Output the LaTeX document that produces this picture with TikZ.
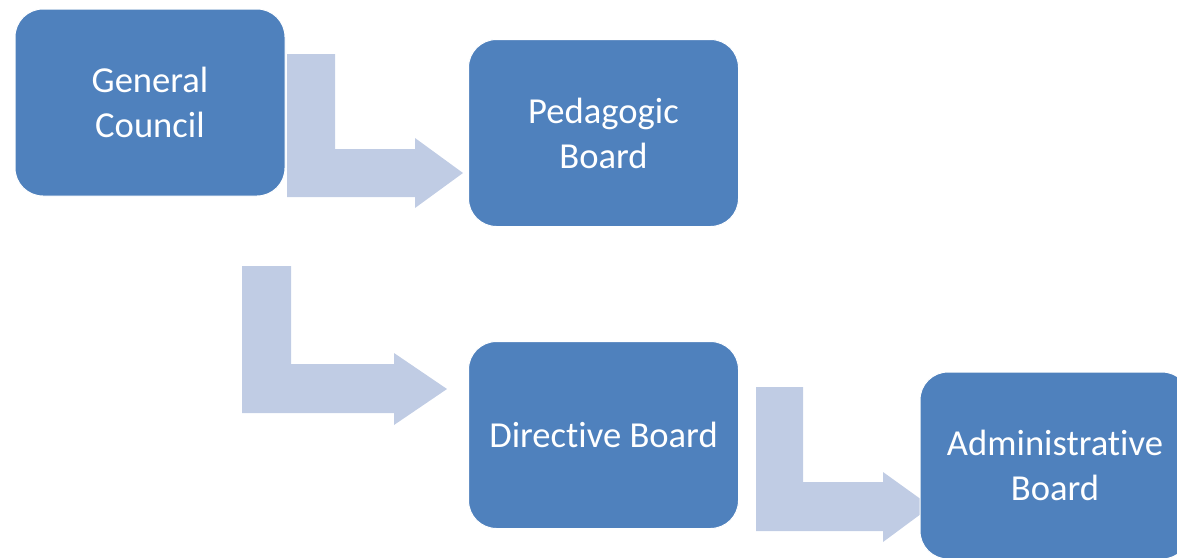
\documentclass[tikz,border=0pt]{standalone}
\usepackage{fontspec}
\setmainfont[RawFeature={-liga;-clig;-calt;-dlig}]{Carlito}
\definecolor{boxblue}{RGB}{79,129,189}
\definecolor{arrowblue}{RGB}{192,204,228}
\newcommand{\nolig}{\kern0pt\relax}
\begin{document}
\begin{tikzpicture}[x=1pt,y=-1pt,
  orgbox/.style={draw=white, line width=1pt, fill=boxblue, rounded corners=28pt,
    minimum width=270pt, minimum height=187pt, inner sep=0pt, align=center,
    text=white, font=\fontsize{36.6}{45}\selectfont},
  bentarrow/.style={fill=arrowblue, draw=none}]
\useasboundingbox (0,0) rectangle (1177,557);
% bent arrows (behind boxes)
\fill[bentarrow] (287,54) -- (335,54) -- (335,149) -- (415,149) -- (415,138) -- (463,173) -- (415,208) -- (415,197) -- (287,197) -- cycle;
\fill[bentarrow] (242,266) -- (291,266) -- (291,364) -- (394,364) -- (394,353) -- (447,389) -- (394,425) -- (394,413) -- (242,413) -- cycle;
\fill[bentarrow] (756,387) -- (803,387) -- (803,482) -- (883,482) -- (883,472) -- (931,506.5) -- (883,542) -- (883,531) -- (756,531) -- cycle;
% boxes
\node[orgbox] (gc) at (150,102.5) {General\\Council};
\node[orgbox] (pb) at (603.5,133) {Pedagogic\\Board};
\node[orgbox] (db) at (603.5,435) {Direct\nolig ive Board};
\node[orgbox] (ab) at (1055,465.5) {Administrat\nolig ive\\Board};
\end{tikzpicture}
\end{document}
